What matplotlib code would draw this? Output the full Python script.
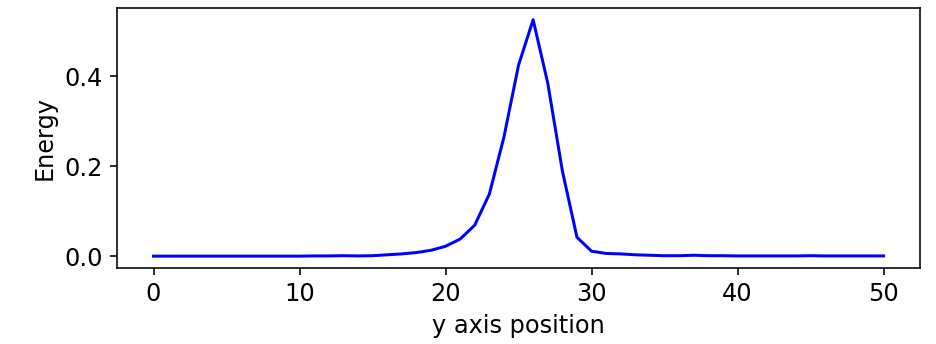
import numpy as np
import matplotlib.pyplot as plt

# energy along the y axis
positions = list(range(51))
energy = [0.0, 0.0, 0.0, 0.0, 0.0, 0.0, 0.0, 0.0, 0.0, 0.0,
          0.0, 0.0005, 0.0005, 0.001, 0.0005, 0.001, 0.003, 0.005, 0.008, 0.013,
          0.022, 0.038, 0.069, 0.138, 0.265, 0.425, 0.526, 0.385, 0.19, 0.042,
          0.011, 0.006, 0.005, 0.003, 0.002, 0.001, 0.001, 0.002, 0.001, 0.001,
          0.0005, 0.0005, 0.0005, 0.0005, 0.0005, 0.001, 0.0005, 0.0005, 0.0005, 0.0005,
          0.0005]

plt.rcParams['font.size'] = 12
fig = plt.figure(figsize=(936 / 144, 344 / 144), dpi=144)
ax = fig.add_axes([0.125, 0.221, 0.858, 0.756])
ax.plot(positions, energy, color='blue', linewidth=1.5)
ax.set_xlabel("y axis position")
ax.set_ylabel("Energy")
ax.set_yticks([0.0, 0.2, 0.4])
fig.savefig("out.png", dpi=144)
